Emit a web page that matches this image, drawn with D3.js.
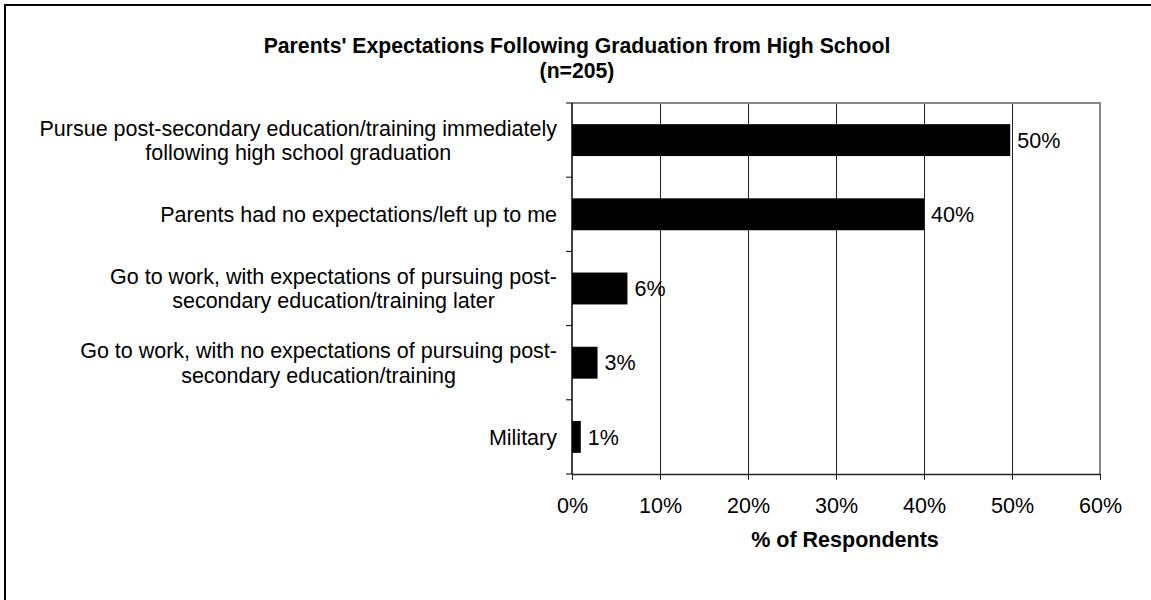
<!DOCTYPE html>
<html>
<head>
<meta charset="utf-8">
<script src="https://cdn.jsdelivr.net/npm/d3@7/dist/d3.min.js"></script>
<style>
  html, body { margin: 0; padding: 0; background: #fff; }
  svg { display: block; font-family: "Liberation Sans", Arial, sans-serif; }
</style>
</head>
<body>
<svg id="chart" width="1151" height="600"></svg>
<script>
// Survey responses: share of respondents by parents' expectation (n=205)
const categories = [
  ["Pursue post-secondary education/training immediately", "following high school graduation"],
  ["Parents had no expectations/left up to me"],
  ["Go to work, with expectations of pursuing post-", "secondary education/training later"],
  ["Go to work, with no expectations of pursuing post-", "secondary education/training"],
  ["Military"]
];
const values = [0.498, 0.400, 0.063, 0.029, 0.010];
const xTicks = [0, 0.1, 0.2, 0.3, 0.4, 0.5, 0.6];
const titleLines = ["Parents' Expectations Following Graduation from High School", "(n=205)"];
const xAxisTitle = "% of Respondents";

const svg = d3.select("#chart");
const FS = 21.5;      // labels and ticks
const TFS = 21.2;     // title
const plot = { left: 572, right: 1100, top: 103, bottom: 474 };
const barPad = 0.57;

const ids = d3.range(categories.length);
const x = d3.scaleLinear().domain([0, 0.6]).range([plot.left, plot.right]);
const y = d3.scaleBand().domain(ids).range([plot.top, plot.bottom])
  .paddingInner(barPad).paddingOuter(barPad / 2);
const step = y.step();
const bandTop = i => y(i) - step * barPad / 2;
const fmt = d3.format(".0%");

// outer frame
svg.append("rect")
  .attr("x", 5).attr("y", 5).attr("width", 1300).attr("height", 800)
  .attr("fill", "none").attr("stroke", "#000").attr("stroke-width", 2);

// title
svg.append("g").selectAll("text").data(titleLines).join("text")
  .attr("x", 577).attr("y", (d, i) => 53 + i * 24.5)
  .attr("text-anchor", "middle")
  .attr("font-weight", "bold").attr("font-size", TFS)
  .text(d => d);

// vertical gridlines
svg.append("g").selectAll("line").data(xTicks.slice(1, -1)).join("line")
  .attr("x1", d => Math.round(x(d)) + 0.5).attr("x2", d => Math.round(x(d)) + 0.5)
  .attr("y1", plot.top).attr("y2", plot.bottom)
  .attr("stroke", "#222").attr("stroke-width", 1);

// plot-area border (top and right)
svg.append("path")
  .attr("d", `M${plot.left},${plot.top}H${plot.right}V${plot.bottom}`)
  .attr("fill", "none").attr("stroke", "#888").attr("stroke-width", 2);

// bars
svg.append("g").selectAll("rect").data(ids).join("rect")
  .attr("x", x(0)).attr("y", i => y(i))
  .attr("width", i => x(values[i]) - x(0))
  .attr("height", y.bandwidth())
  .attr("fill", "#000");

// value labels
svg.append("g").selectAll("text").data(ids).join("text")
  .attr("x", i => x(values[i]) + 7)
  .attr("y", i => y(i) + y.bandwidth() / 2 + FS * 0.36)
  .attr("font-size", FS)
  .text(i => fmt(values[i]));

// x axis
const xAxis = svg.append("g")
  .attr("transform", `translate(0,${plot.bottom})`)
  .call(d3.axisBottom(x).tickValues(xTicks).tickFormat(fmt).tickSize(6).tickSizeOuter(0).tickPadding(18));
xAxis.select(".domain").attr("stroke", "#222").attr("stroke-width", 1.5);
xAxis.selectAll(".tick line").attr("stroke", "#222");
xAxis.selectAll("text").attr("font-size", FS).attr("font-family", null).attr("fill", "#000");

// y axis line and ticks at category boundaries
const yAxis = svg.append("g");
yAxis.append("line")
  .attr("x1", plot.left).attr("x2", plot.left)
  .attr("y1", plot.top).attr("y2", plot.bottom)
  .attr("stroke", "#000").attr("stroke-width", 1.5);
const bounds = ids.map(bandTop).concat([plot.bottom]);
yAxis.selectAll(".ytick").data(bounds).join("line")
  .attr("class", "ytick")
  .attr("x1", plot.left - 6).attr("x2", plot.left)
  .attr("y1", d => d).attr("y2", d => d)
  .attr("stroke", "#000").attr("stroke-width", 1);

// category labels: each block right-aligned, lines centered within the block
const labelRight = 557;
const lineH = 24.5;
ids.forEach(i => {
  const lines = categories[i];
  const g = svg.append("g");
  const cy = y(i) + y.bandwidth() / 2;
  const t = g.selectAll("text").data(lines).join("text")
    .attr("font-size", FS)
    .attr("text-anchor", "middle")
    .attr("y", (d, k) => cy + (k - (lines.length - 1) / 2) * lineH + FS * 0.36)
    .text(d => d);
  const w = d3.max(t.nodes(), n => n.getComputedTextLength());
  t.attr("x", labelRight - w / 2);
});

// x axis title
svg.append("text")
  .attr("x", 845).attr("y", 547)
  .attr("text-anchor", "middle")
  .attr("font-weight", "bold").attr("font-size", FS)
  .text(xAxisTitle);
</script>
</body>
</html>
